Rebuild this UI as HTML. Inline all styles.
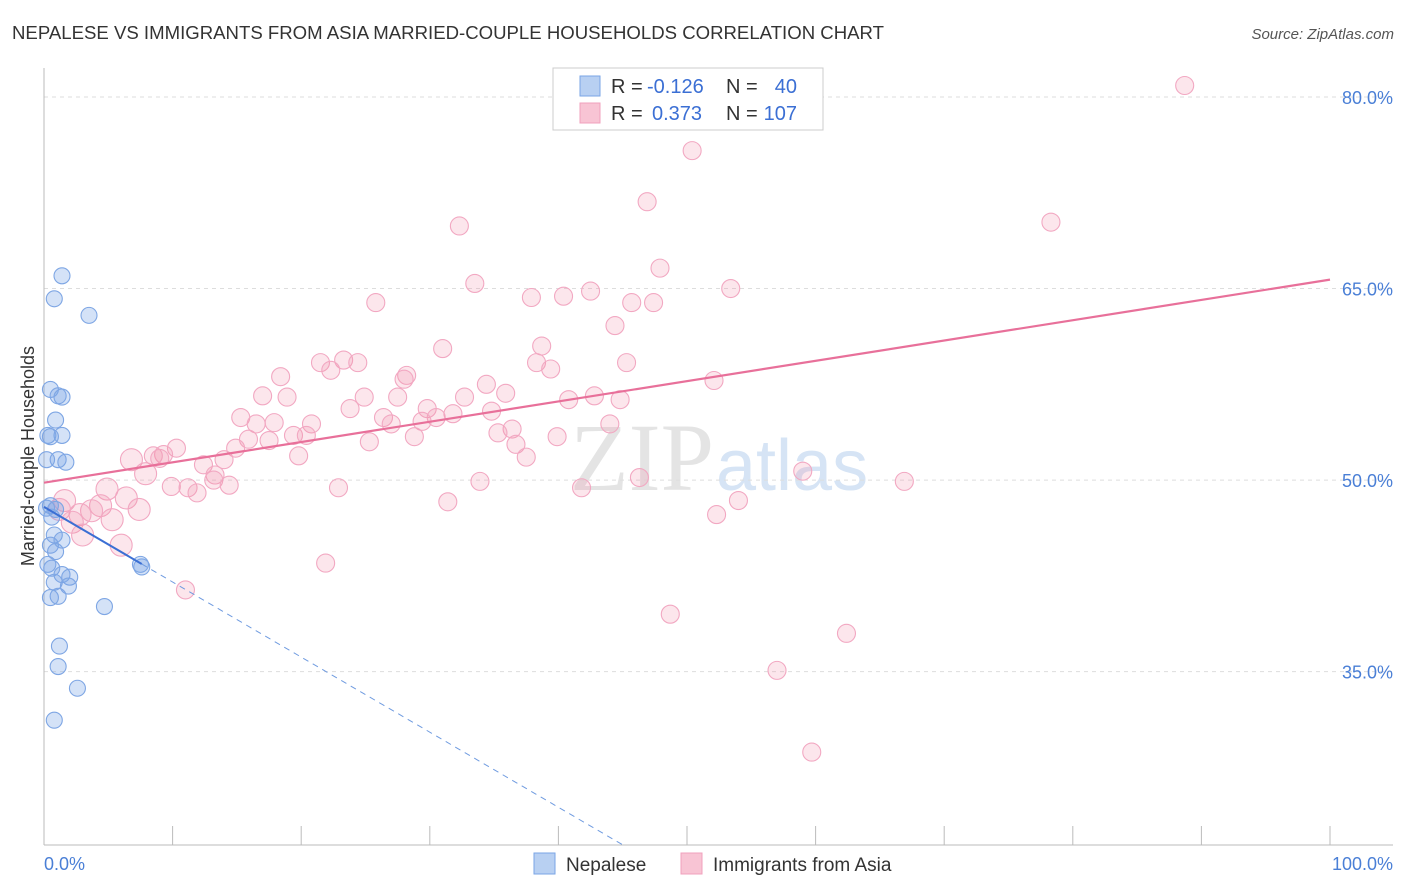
<!DOCTYPE html>
<html><head><meta charset="utf-8"><style>
body{margin:0;background:#fff;font-family:"Liberation Sans",sans-serif;}
svg{display:block}
</style></head><body>
<svg id="chart" width="1406" height="892">
<text x="12" y="39" font-size="18.6" fill="#333">NEPALESE VS IMMIGRANTS FROM ASIA MARRIED-COUPLE HOUSEHOLDS CORRELATION CHART</text>
<text x="1394" y="39" font-size="15" fill="#555" font-style="italic" text-anchor="end">Source: ZipAtlas.com</text>
<text x="714" y="490" font-size="96" fill="#e4e4e4" text-anchor="end" font-family="Liberation Serif">ZIP</text>
<text x="716" y="490" font-size="72" fill="#d6e4f5">atlas</text>
<g id="grid"></g><g id="axes"></g><g id="pts"></g><g id="lines"></g>
<text transform="translate(34,456) rotate(-90)" font-size="18" fill="#333" text-anchor="middle">Married-couple Households</text>
<text x="44" y="870" font-size="18" fill="#4a7fd6">0.0%</text>
<text x="1393" y="870" font-size="18" fill="#4a7fd6" text-anchor="end">100.0%</text>
<g>
<rect x="553" y="68" width="270" height="62" fill="#fff" stroke="#ccc"/>
<rect x="580" y="76" width="20" height="20" fill="#b8d0f2" stroke="#7aa5e6"/>
<rect x="580" y="103" width="20" height="20" fill="#f8c4d4" stroke="#f0a0bd"/>
<text x="611" y="93" font-size="20" fill="#333">R =</text>
<text x="647" y="93" font-size="20" fill="#3b6fd4">-0.126</text>
<text x="726" y="93" font-size="20" fill="#333">N =</text>
<text x="797" y="93" font-size="20" fill="#3b6fd4" text-anchor="end">40</text>
<text x="611" y="120" font-size="20" fill="#333">R =</text>
<text x="652" y="120" font-size="20" fill="#3b6fd4">0.373</text>
<text x="726" y="120" font-size="20" fill="#333">N =</text>
<text x="797" y="120" font-size="20" fill="#3b6fd4" text-anchor="end">107</text>
</g>
<g>
<rect x="534" y="853" width="21" height="21" fill="#b8d0f2" stroke="#7aa5e6"/>
<text x="566" y="871" font-size="19" fill="#333">Nepalese</text>
<rect x="681" y="853" width="21" height="21" fill="#f8c4d4" stroke="#f0a0bd"/>
<text x="713" y="871" font-size="19" fill="#333">Immigrants from Asia</text>
</g>
</svg>
<script>
const yTicks=[80,65,50,35];
const yTickLabels=["80.0%","65.0%","50.0%","35.0%"];
const xTicks=[0,10,20,30,40,50,60,70,80,90,100];
const blueX=[1.4,0.8,3.5,0.5,1.1,1.4,0.9,1.4,0.3,0.5,1.1,1.7,0.2,0.5,0.9,0.6,0.8,0.5,0.9,0.3,0.6,1.4,2.0,0.8,1.9,1.1,0.5,4.7,7.5,7.6,1.2,1.1,2.6,0.8,0.2,1.4];
const blueY=[66.0,64.2,62.9,57.1,56.6,56.5,54.7,53.5,53.5,53.4,51.6,51.4,51.6,48.0,47.7,47.1,45.7,44.9,44.4,43.4,43.1,42.6,42.4,42.0,41.7,40.9,40.8,40.1,43.4,43.2,37.0,35.4,33.7,31.2,47.8,45.3];
const pinkX=[88.7,50.4,46.9,32.3,78.3,47.9,33.5,25.8,37.9,40.4,42.5,45.7,47.4,53.4,44.4,31.0,38.7,21.5,23.3,24.4,22.3,38.3,39.4,45.3,18.4,28.2,28.0,52.1,34.4,35.9,17.0,18.9,24.9,27.5,32.7,40.8,42.8,44.8,23.8,29.8,34.8,31.8,15.3,26.4,17.9,16.5,27.0,30.5,29.4,20.8,44.0,36.4,35.3,19.4,20.4,28.8,39.9,15.9,17.5,25.3,36.7,14.9,10.3,9.3,8.5,9.0,14.0,19.8,37.5,6.8,12.4,7.9,13.3,59.0,13.2,46.3,9.9,11.2,14.4,22.9,33.9,41.8,66.9,11.9,4.9,6.4,54.0,31.4,1.6,7.4,4.4,52.3,1.2,3.7,5.3,2.8,2.2,3.0,6.0,21.9,11.0,48.7,62.4,57.0,59.7];
const pinkY=[80.9,75.8,71.8,69.9,70.2,66.6,65.4,63.9,64.3,64.4,64.8,63.9,63.9,65.0,62.1,60.3,60.5,59.2,59.4,59.2,58.6,59.2,58.7,59.2,58.1,58.2,57.9,57.8,57.5,56.8,56.6,56.5,56.5,56.5,56.5,56.3,56.6,56.3,55.6,55.6,55.4,55.2,54.9,54.9,54.5,54.4,54.4,54.9,54.6,54.4,54.4,54.0,53.7,53.5,53.5,53.4,53.4,53.2,53.1,53.0,52.8,52.5,52.5,52.0,51.9,51.7,51.6,51.9,51.8,51.6,51.2,50.5,50.4,50.7,50.0,50.2,49.5,49.4,49.6,49.4,49.9,49.4,49.9,49.0,49.3,48.6,48.4,48.3,48.4,47.7,48.0,47.3,47.7,47.6,46.9,47.3,46.7,45.7,44.9,43.5,41.4,39.5,38.0,35.1,28.7];
const blueTrend=[47.9,-0.588];
const pinkTrend=[49.8,0.159];
const X=v=>44+v*12.86, Y=v=>97+(80-v)*12.77;
const NS="http://www.w3.org/2000/svg";
function mk(t,a,p){const e=document.createElementNS(NS,t);for(const k in a)e.setAttribute(k,a[k]);p.appendChild(e);return e;}
const grid=document.getElementById('grid'),axes=document.getElementById('axes'),pts=document.getElementById('pts'),lines=document.getElementById('lines');
yTicks.forEach((t,i)=>{
 const l=mk('line',{x1:44,x2:1393,y1:Y(t),y2:Y(t),stroke:'#ddd','stroke-dasharray':'4,4'},grid);
 
 
 const tx=mk('text',{x:1393,y:Y(t)+7,'font-size':18,fill:'#4a7fd6','text-anchor':'end'},axes);
 tx.textContent=yTickLabels[i];
 
 
});
let a=mk('line',{x1:44,x2:44,y1:68,y2:845,stroke:'#bbb'},axes);


a=mk('line',{x1:44,x2:1393,y1:845,y2:845,stroke:'#bbb'},axes);


xTicks.forEach(t=>{const l=mk('line',{x1:X(t),x2:X(t),y1:826,y2:845,stroke:'#bbb'},axes);
 
 });
pinkX.forEach((x,i)=>{const c=mk('circle',{cx:X(x),cy:Y(pinkY[i]),r:x<8?11:9,fill:'rgba(240,140,170,0.22)',stroke:'#f2a8c2','stroke-width':1.1},pts);
 
 });
blueX.forEach((x,i)=>{const c=mk('circle',{cx:X(x),cy:Y(blueY[i]),r:8,fill:'rgba(120,165,230,0.32)',stroke:'#7ea6e4','stroke-width':1.1},pts);
 
 });
const bmax=Math.max(...blueX);
const bEnd=(21.4-blueTrend[0])/blueTrend[1];
let l=mk('line',{x1:X(0),y1:Y(blueTrend[0]),x2:X(bmax),y2:Y(blueTrend[0]+blueTrend[1]*bmax),stroke:'#3b6fd4','stroke-width':2},lines);


l=mk('line',{x1:X(bmax),y1:Y(blueTrend[0]+blueTrend[1]*bmax),x2:X(bEnd),y2:Y(21.4),stroke:'#6f9be0','stroke-width':1,'stroke-dasharray':'6,5'},lines);


l=mk('line',{x1:X(0),y1:Y(pinkTrend[0]),x2:X(100),y2:Y(pinkTrend[0]+pinkTrend[1]*100),stroke:'#e8709a','stroke-width':2.2},lines);


</script>
</body></html>
